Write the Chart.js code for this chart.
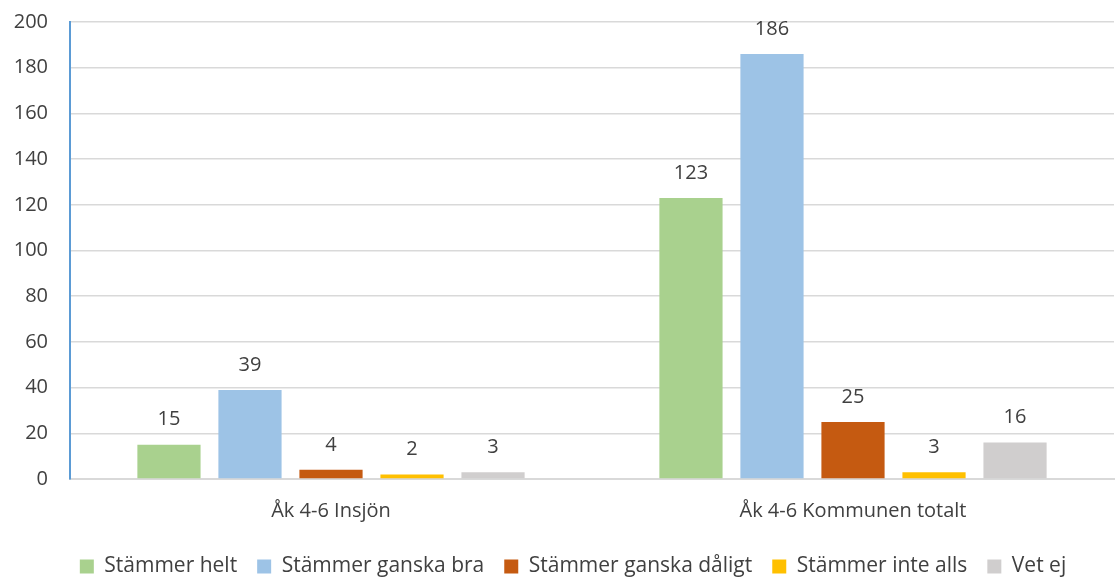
<!DOCTYPE html>
<html>
<head>
<meta charset="utf-8">
<script src="https://cdn.jsdelivr.net/npm/chart.js@4"></script>
<style>
  html, body { margin: 0; padding: 0; background: #fff; }
  #wrap { width: 1120px; height: 577px; }
</style>
</head>
<body>
<div id="wrap"><canvas id="chart" width="1120" height="577"></canvas></div>
<script>
const categories = ['Åk 4-6 Insjön', 'Åk 4-6 Kommunen totalt'];
const seriesNames = ['Stämmer helt', 'Stämmer ganska bra', 'Stämmer ganska dåligt', 'Stämmer inte alls', 'Vet ej'];
const helt = [15, 123];
const gansaBra = [39, 186];
const ganskaDaligt = [4, 25];
const inteAlls = [2, 3];
const vetEj = [3, 16];
const colors = ['#A9D18E', '#9DC3E6', '#C55A11', '#FFC000', '#D0CECE'];

const values = [helt, gansaBra, ganskaDaligt, inteAlls, vetEj];
const fontFamily = '"Open Sans", "Liberation Sans", sans-serif';

// draws the number above each bar
const valueLabels = {
  id: 'valueLabels',
  afterDatasetsDraw(chart) {
    const ctx = chart.ctx;
    ctx.save();
    ctx.fillStyle = '#404040';
    ctx.font = '20px ' + fontFamily;
    ctx.textAlign = 'center';
    ctx.textBaseline = 'middle';
    chart.data.datasets.forEach((ds, i) => {
      chart.getDatasetMeta(i).data.forEach((bar, j) => {
        ctx.fillText(ds.data[j], bar.x, bar.y - 25);
      });
    });
    ctx.restore();
  }
};

// the legend sits a bit right of centre in the original
const legendShift = {
  id: 'legendShift',
  afterLayout(chart) {
    chart.legend.left += 16;
    chart.legend.right += 16;
  }
};

new Chart(document.getElementById('chart'), {
  type: 'bar',
  data: {
    labels: categories,
    datasets: seriesNames.map((name, i) => ({
      label: name,
      data: values[i],
      backgroundColor: colors[i],
      borderWidth: 0,
      barPercentage: 0.78,
      categoryPercentage: 0.776
    }))
  },
  options: {
    responsive: false,
    animation: false,
    layout: { padding: { top: 22, right: 6, left: 0, bottom: -10 } },
    plugins: {
      legend: {
        position: 'bottom',
        labels: {
          boxWidth: 14,
          boxHeight: 14,
          padding: 20,
          color: '#404040',
          font: { size: 21, family: fontFamily }
        }
      },
      tooltip: { enabled: false }
    },
    scales: {
      x: {
        grid: { display: false, drawTicks: false },
        border: { color: '#d9d9d9', width: 2 },
        ticks: { color: '#404040', padding: 20, font: { size: 20, family: fontFamily } },
        afterFit: scale => { scale.height = 57; }
      },
      y: {
        min: 0,
        max: 200,
        grid: { color: '#d9d9d9', lineWidth: 1.5, drawTicks: false },
        border: { color: '#5B9BD5', width: 2 },
        ticks: { stepSize: 20, color: '#404040', padding: 22, font: { size: 20, family: fontFamily } },
        afterFit: scale => {
          scale.width = 70;
          scale.paddingTop = 12;
          scale.paddingBottom = 12;
        }
      }
    }
  },
  plugins: [valueLabels, legendShift]
});
</script>
</body>
</html>
